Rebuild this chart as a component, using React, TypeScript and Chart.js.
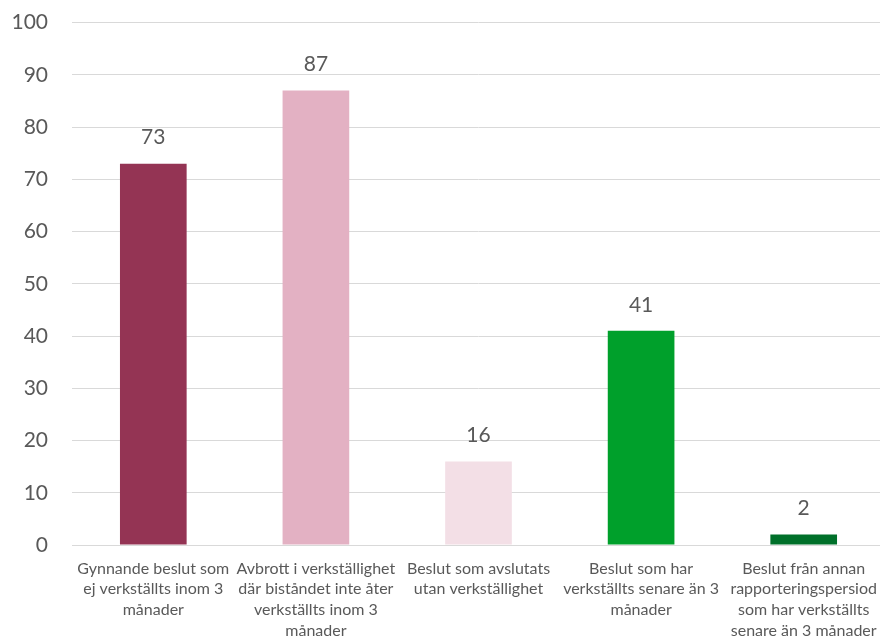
import React, { useEffect, useRef } from "react";
import { Chart, registerables } from "chart.js";

Chart.register(...registerables);

const categories: string[][] = [
  ["Gynnande beslut som", "ej verkställts inom 3", "månader"],
  ["Avbrott i verkställighet", "där biståndet inte åter", "verkställts inom 3", "månader"],
  ["Beslut som avslutats", "utan verkställighet"],
  ["Beslut som har", "verkställts senare än 3", "månader"],
  ["Beslut från annan", "rapporteringspersiod", "som har verkställts", "senare än 3 månader"],
];
const values: number[] = [73, 87, 16, 41, 2];
const barColors: string[] = ["#943454", "#E3B1C3", "#F3DFE6", "#00A02B", "#00702A"];
const yTicks: number[] = [0, 10, 20, 30, 40, 50, 60, 70, 80, 90, 100];

const FONT = "Lato, 'Open Sans', sans-serif";
const TEXT = "#595959";

const valueLabels = {
  id: "valueLabels",
  afterDatasetsDraw(chart: any) {
    const ctx = chart.ctx;
    const meta = chart.getDatasetMeta(0);
    ctx.save();
    ctx.font = `21px ${FONT}`;
    ctx.fillStyle = TEXT;
    ctx.textAlign = "center";
    ctx.textBaseline = "middle";
    meta.data.forEach((el: any, i: number) => {
      ctx.fillText(String(values[i]), el.x, el.y - 26);
    });
    ctx.restore();
  },
};

export default function App() {
  const ref = useRef<HTMLCanvasElement>(null);
  useEffect(() => {
    if (!ref.current) return;
    const chart = new Chart(ref.current, {
      type: "bar",
      data: {
        labels: categories,
        datasets: [
          {
            data: values,
            backgroundColor: barColors,
            barPercentage: 0.41,
            categoryPercentage: 1,
          },
        ],
      },
      options: {
        responsive: false,
        animation: false,
        layout: { padding: { top: 8, right: 1, left: 0, bottom: 0 } },
        plugins: { legend: { display: false }, tooltip: { enabled: false } },
        scales: {
          x: {
            grid: { display: false },
            border: { display: true, color: "#D9D9D9", width: 1 },
            ticks: {
              color: TEXT,
              font: { family: FONT, size: 16, lineHeight: 1.3 },
              maxRotation: 0,
              autoSkip: false,
              padding: 5,
            },
            afterFit(scale: any) {
              scale.height = 92;
            },
          },
          y: {
            min: 0,
            max: 100,
            afterBuildTicks(scale: any) {
              scale.ticks = yTicks.map((v) => ({ value: v }));
            },
            grid: { color: "#D9D9D9", lineWidth: 1, drawTicks: false },
            border: { display: false },
            ticks: {
              color: TEXT,
              font: { family: FONT, size: 21 },
              padding: 24,
            },
            afterFit(scale: any) {
              scale.width = 72;
            },
          },
        },
      },
      plugins: [valueLabels],
    });
    return () => chart.destroy();
  }, []);
  return (
    <div style={{ position: "absolute", left: 0, top: 0, width: 880, height: 637, overflow: "hidden", background: "#fff" }}>
      <canvas ref={ref} width={886} height={651} style={{ display: "block", marginTop: -14 }} />
    </div>
  );
}
